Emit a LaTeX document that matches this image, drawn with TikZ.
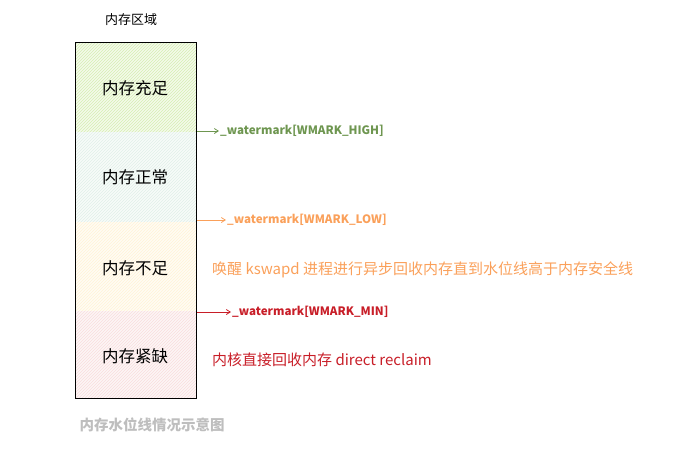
\documentclass[tikz,border=0pt]{standalone}
\usepackage{fontspec}
\setmainfont{Noto Sans CJK SC}
\usepackage{tikz}
\usetikzlibrary{patterns,arrows.meta}

\definecolor{hatchgreen}{RGB}{204,234,160}
\definecolor{hatchmint}{RGB}{218,236,226}
\definecolor{hatchyellow}{RGB}{255,240,204}
\definecolor{hatchpink}{RGB}{248,212,212}
\definecolor{markgreen}{RGB}{110,150,80}
\definecolor{markorange}{RGB}{250,160,90}
\definecolor{markred}{RGB}{200,30,40}
\definecolor{captiongray}{RGB}{190,190,190}

\tikzset{
    zonetext/.style={font=\fontsize{16.5}{16.5}\selectfont},
    marktext/.style={anchor=west,font=\fontsize{11.6}{11.6}\selectfont\bfseries,inner sep=1pt},
    notetext/.style={anchor=west,font=\fontsize{15}{15}\selectfont,inner sep=0pt},
    markarrow/.style={-{Straight Barb[length=4pt,width=5pt]},line width=0.8pt}
}

\begin{document}
\begin{tikzpicture}[x=1pt,y=-1pt]
            \useasboundingbox (0,0) rectangle (698,450);

            % zones, top to bottom
            \foreach \top/\bot/\col in {42/132/hatchgreen,132/222/hatchmint,222/311/hatchyellow,311/398/hatchpink}{
                \fill[\col!22] (75,\top) rectangle (196,\bot);
                \fill[pattern=north east lines,pattern color=\col!80] (75,\top) rectangle (196,\bot);
            }
            \draw[line width=0.9pt] (75,42) rectangle (196,398);

            \node[font=\fontsize{13}{13}\selectfont] (title) at (131,20) {内存区域};

            \node[zonetext] (full) at (135,88) {内存充足};
            \node[zonetext] (normal) at (135,177) {内存正常};
            \node[zonetext] (low) at (135,268) {内存不足};
            \node[zonetext] (short) at (135,356) {内存紧缺};

            \coordinate (high) at (197,131);
            \coordinate (lowmark) at (197,220);
            \coordinate (minmark) at (197,312);

            \node[marktext,text=markgreen] (hightext) at (219,131) {\_watermark[WMARK\_HIGH]};
            \node[marktext,text=markorange] (lowtext) at (226,220) {\_watermark[WMARK\_LOW]};
            \node[marktext,text=markred] (mintext) at (231,312) {\_watermark[WMARK\_MIN]};

            \draw[markarrow,markgreen] (high) -- (hightext.west);
            \draw[markarrow,markorange] (lowmark) -- (lowtext.west);
            \draw[markarrow,markred] (minmark) -- (mintext.west);

            \node[notetext,text=markorange] (kswapd) at (212,270) {唤醒 kswapd 进程进行异步回收内存直到水位线高于内存安全线};
            \node[notetext,text=markred] (direct) at (212,360) {内核直接回收内存 direct reclaim};

            \node[anchor=west,font=\fontsize{14.5}{14.5}\selectfont\bfseries,text=captiongray] (caption) at (76,425) {内存水位线情况示意图};
        \end{tikzpicture}
\end{document}
